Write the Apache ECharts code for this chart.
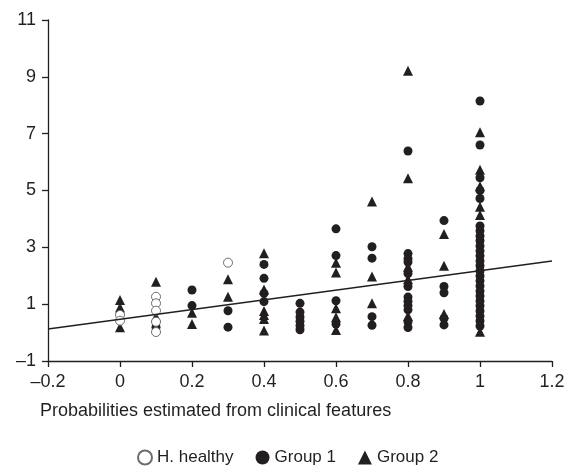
<!DOCTYPE html>
<html>
<head>
<meta charset="utf-8">
<script src="https://cdn.jsdelivr.net/npm/echarts@6/dist/echarts.min.js"></script>
<style>html,body{margin:0;padding:0;background:#fff;}#c{width:570px;height:469px;}</style>
</head>
<body>
<div id="c"></div>
<script>
var xTicks = [-0.2, 0, 0.2, 0.4, 0.6, 0.8, 1, 1.2];
var yTicks = [-1, 1, 3, 5, 7, 9, 11];
var seriesNames = ['H. healthy', 'Group 1', 'Group 2'];
var xAxisTitle = 'Probabilities estimated from clinical features';

var healthy = [
  [0, 0.62], [0, 0.42],
  [0.1, 1.26], [0.1, 1.03], [0.1, 0.77], [0.1, 0.38], [0.1, 0.02],
  [0.3, 2.46]
];
var group1 = [
  [0.1, 0.19],
  [0.2, 1.5], [0.2, 0.95],
  [0.3, 0.77], [0.3, 0.19],
  [0.4, 2.4], [0.4, 1.91], [0.4, 1.38], [0.4, 1.09],
  [0.5, 1.03], [0.5, 0.72], [0.5, 0.55], [0.5, 0.4], [0.5, 0.24], [0.5, 0.1],
  [0.6, 3.65], [0.6, 2.71], [0.6, 1.12], [0.6, 0.3],
  [0.7, 3.02], [0.7, 2.62], [0.7, 0.56], [0.7, 0.26],
  [0.8, 6.39], [0.8, 2.78], [0.8, 2.6], [0.8, 2.48], [0.8, 2.08], [0.8, 1.62], [0.8, 1.25], [0.8, 1.1], [0.8, 0.95], [0.8, 0.8], [0.8, 0.38], [0.8, 0.18],
  [0.9, 3.94], [0.9, 1.62], [0.9, 1.4], [0.9, 0.5], [0.9, 0.27],
  [1, 8.15], [1, 6.6], [1, 5.45], [1, 5.0], [1, 4.72], [1, 3.75], [1, 3.58], [1, 3.4], [1, 3.23], [1, 3.05], [1, 2.87], [1, 2.7], [1, 2.52], [1, 2.35], [1, 2.17], [1, 1.99], [1, 1.82], [1, 1.64], [1, 1.46], [1, 1.29], [1, 1.11], [1, 0.94], [1, 0.76], [1, 0.58], [1, 0.41], [1, 0.23]
];
var group2 = [
  [0, 1.15], [0, 0.88], [0, 0.19],
  [0.1, 1.79], [0.1, 0.56],
  [0.2, 0.7], [0.2, 0.3],
  [0.3, 1.88], [0.3, 1.26],
  [0.4, 2.79], [0.4, 1.52], [0.4, 0.76], [0.4, 0.62], [0.4, 0.48], [0.4, 0.07],
  [0.6, 2.46], [0.6, 2.11], [0.6, 0.86], [0.6, 0.54], [0.6, 0.09],
  [0.7, 4.61], [0.7, 1.97], [0.7, 1.03],
  [0.8, 9.21], [0.8, 5.43], [0.8, 2.32], [0.8, 1.88], [0.8, 0.58],
  [0.9, 3.47], [0.9, 2.35], [0.9, 0.65],
  [1, 7.05], [1, 5.73], [1, 5.15], [1, 4.43], [1, 4.14], [1, 0.03]
];
var fitLine = [[-0.2, 0.13], [1.2, 2.52]];

var ink = '#231f20';
var font = 'Liberation Sans, Arial, Helvetica, sans-serif';
function fmt(v) { return String(+v.toFixed(1)).replace('-', '\u2013'); }

var chart = echarts.init(document.getElementById('c'), null, {renderer: 'canvas'});
chart.setOption({
  animation: false,
  backgroundColor: '#fff',
  grid: {left: 48, right: 18, top: 20, bottom: 108, containLabel: false},
  xAxis: {
    type: 'value', min: xTicks[0], max: xTicks[xTicks.length - 1], interval: 0.2,
    axisLine: {show: true, onZero: false, lineStyle: {color: ink, width: 1.3}},
    axisTick: {show: true, inside: false, length: 6, lineStyle: {color: ink, width: 1.3}},
    splitLine: {show: false},
    axisLabel: {color: ink, fontSize: 18, fontFamily: font, margin: 12, formatter: fmt}
  },
  yAxis: {
    type: 'value', min: yTicks[0], max: yTicks[yTicks.length - 1], interval: 2,
    axisLine: {show: true, onZero: false, lineStyle: {color: ink, width: 1.3}},
    axisTick: {show: true, inside: false, length: 6, lineStyle: {color: ink, width: 1.3}},
    splitLine: {show: false},
    axisLabel: {color: ink, fontSize: 18, fontFamily: font, margin: 12, formatter: fmt}
  },
  legend: {
    data: seriesNames,
    left: 132, top: 444,
    itemWidth: 14, itemHeight: 14, itemGap: 22,
    textStyle: {color: ink, fontSize: 17, fontFamily: font, padding: [2, 0, 0, 0]}
  },
  graphic: [{
    type: 'text', left: 40, top: 402,
    style: {text: xAxisTitle, fill: ink, fontSize: 18, fontFamily: font}
  }],
  series: [
    {name: seriesNames[1], type: 'scatter', data: group1, symbol: 'circle', symbolSize: 9,
     itemStyle: {color: ink, opacity: 1}, z: 2},
    {name: seriesNames[2], type: 'scatter', data: group2, symbol: 'triangle', symbolSize: 10,
     itemStyle: {color: ink, opacity: 1}, z: 3},
    {name: seriesNames[0], type: 'scatter', data: healthy, symbol: 'circle', symbolSize: 9,
     itemStyle: {color: '#fff', borderColor: '#6d6d6d', borderWidth: 1, opacity: 1}, z: 4},
    {name: 'fit', type: 'line', data: fitLine, symbol: 'none', silent: true,
     lineStyle: {color: ink, width: 1.5}, z: 5}
  ]
});
</script>
</body>
</html>
